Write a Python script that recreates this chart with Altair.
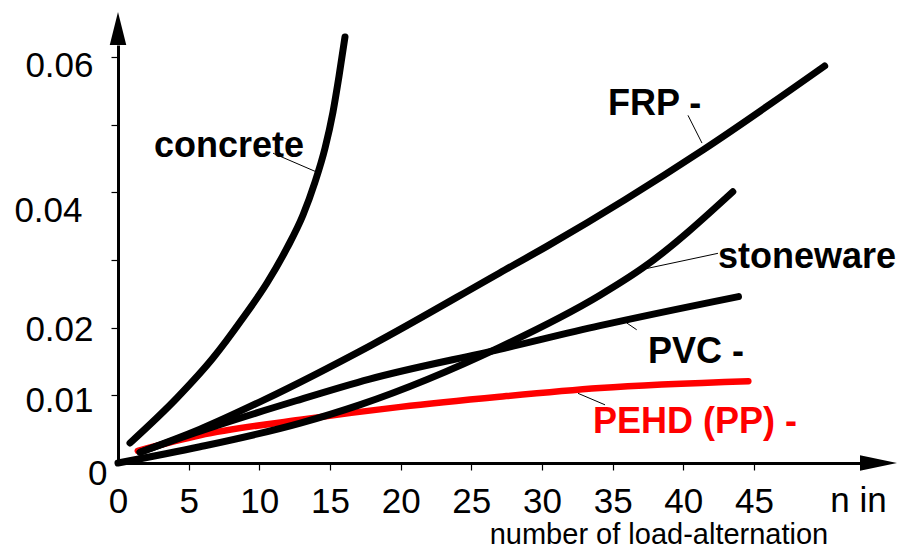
import altair as alt
import pandas as pd

FONT = "Liberation Sans, Arial, Helvetica, sans-serif"

# ---- curve data (n = load alternations, s = deflection-like quantity) ----
concrete_n = [0.85, 4.17, 6.72, 8.84, 10.54, 11.96, 13.09, 13.94, 14.65, 15.21, 15.64, 16.06]
concrete_s = [0.00296, 0.00961, 0.01552, 0.02144, 0.02661, 0.03179, 0.03666, 0.04154,
              0.04657, 0.05189, 0.05721, 0.06298]

frp_n = [1.56, 5.8, 10.3, 17.9, 27.0, 30.4, 41.4, 50.0]
frp_s = [0.0016, 0.0050, 0.0093, 0.0174, 0.0281, 0.0321, 0.0463, 0.0587]

stoneware_n = [0.0, 5.8, 12.9, 17.1, 27.0, 34.1, 37.1, 43.5]
stoneware_s = [0.0, 0.0024, 0.0059, 0.0086, 0.0171, 0.0248, 0.0288, 0.0401]

pvc_n = [1.56, 5.8, 12.6, 17.8, 27.0, 34.1, 43.9]
pvc_s = [0.0016, 0.0047, 0.0092, 0.0124, 0.0168, 0.0203, 0.0246]

pehd_n = [1.4, 5.8, 12.9, 20.0, 27.0, 34.1, 44.6]
pehd_s = [0.0018, 0.0041, 0.0064, 0.0083, 0.0098, 0.0111, 0.0121]

# ---- axis ticks ----
x_ticks = [0, 5, 10, 15, 20, 25, 30, 35, 40, 45]
y_ticks = [0, 0.01, 0.02, 0.03, 0.04, 0.05, 0.06]
y_hidden = [0.03, 0.05]

# ---- curve labels ----
black_label_text = ["concrete", "FRP -", "stoneware", "PVC -"]
black_label_n = [2.55, 34.67, 42.45, 37.5]
black_label_s = [0.0452, 0.0514, 0.0288, 0.0148]

red_label_text = ["PEHD (PP) -"]
red_label_n = [33.6]
red_label_s = [0.0044]

# leader lines: from label to curve
leader_n = [10.97, 40.33, 42.45, 36.0, 32.55]
leader_s = [0.0458, 0.0514, 0.0310, 0.0207, 0.0103]
leader_n2 = [14.08, 41.32, 37.29, 36.7, 34.46]
leader_s2 = [0.0430, 0.0473, 0.0287, 0.0197, 0.0086]

# axis captions
cap_text = ["n in"]
cap_n = [50.4]
cap_s = [-0.00724]
sub_text = ["number of load-alternation"]
sub_n = [26.3]
sub_s = [-0.0120]

X_DOMAIN = [0, 52.5]
Y_DOMAIN = [0, 0.0618]


def frame(name, ns, ss):
    return pd.DataFrame({"series": name, "n": ns, "s": ss, "i": list(range(len(ns)))})


black_df = pd.concat([
    frame("concrete", concrete_n, concrete_s),
    frame("FRP", frp_n, frp_s),
    frame("stoneware", stoneware_n, stoneware_s),
    frame("PVC", pvc_n, pvc_s),
], ignore_index=True)
red_df = frame("PEHD (PP)", pehd_n, pehd_s)

xscale = alt.Scale(domain=X_DOMAIN, nice=False, zero=False)
yscale = alt.Scale(domain=Y_DOMAIN, nice=False, zero=False)

hidden_test = " || ".join(f"datum.value == {v}" for v in y_hidden)

x_axis = alt.Axis(
    values=x_ticks, format="d", title=None, grid=False,
    domainWidth=3, domainColor="black",
    tickColor="black", tickWidth=1.2, tickSize=7,
    tickOpacity={"condition": {"test": "datum.value == 0", "value": 0}, "value": 1},
    labelFont=FONT, labelFontSize=35, labelColor="black",
    labelPadding=14, labelFlush=False, labelOverlap=False, labelBound=False,
)
y_axis = alt.Axis(
    values=y_ticks, format=".2~f", title=None, grid=False,
    labelExpr=f"({hidden_test}) ? '' : datum.label",
    domainWidth=3, domainColor="black",
    tickColor="black", tickWidth=1.2, tickSize=7,
    tickOpacity={"condition": {"test": "datum.value == 0", "value": 0}, "value": 1},
    labelFont=FONT, labelFontSize=35, labelColor="black",
    labelPadding={"condition": [
        {"test": "datum.value == 0", "value": 4},
        {"test": "datum.value == 0.04", "value": 29},
    ], "value": 18},
    labelOffset={"condition": [
        {"test": "datum.value == 0", "value": 10},
        {"test": "datum.value == 0.04", "value": 18},
        {"test": "datum.value == 0.06", "value": 8},
        {"test": "datum.value == 0.01", "value": 5},
    ], "value": 2},
    labelFlush=False, labelOverlap=False, labelBound=False,
)

red_line = alt.Chart(red_df).mark_line(
    color="#ff0000", strokeWidth=6.5, strokeCap="round", strokeJoin="round",
    interpolate="monotone",
).encode(
    x=alt.X("n:Q", scale=xscale, axis=x_axis),
    y=alt.Y("s:Q", scale=yscale, axis=y_axis),
    order="i:Q",
)

black_lines = alt.Chart(black_df).mark_line(
    color="black", strokeWidth=7, strokeCap="round", strokeJoin="round",
    interpolate="monotone",
).encode(
    x=alt.X("n:Q", scale=xscale),
    y=alt.Y("s:Q", scale=yscale),
    detail="series:N",
    order="i:Q",
)

leaders = alt.Chart(pd.DataFrame({
    "n": leader_n, "s": leader_s, "n2": leader_n2, "s2": leader_s2,
})).mark_rule(color="black", strokeWidth=1).encode(
    x=alt.X("n:Q", scale=xscale), y=alt.Y("s:Q", scale=yscale),
    x2="n2:Q", y2="s2:Q",
)

black_labels = alt.Chart(pd.DataFrame({
    "t": black_label_text, "n": black_label_n, "s": black_label_s,
})).mark_text(
    font=FONT, fontSize=36, fontWeight="bold", color="black",
    align="left", baseline="alphabetic",
).encode(x=alt.X("n:Q", scale=xscale), y=alt.Y("s:Q", scale=yscale), text="t:N")

red_labels = alt.Chart(pd.DataFrame({
    "t": red_label_text, "n": red_label_n, "s": red_label_s,
})).mark_text(
    font=FONT, fontSize=36, fontWeight="bold", color="#ff0000",
    align="left", baseline="alphabetic",
).encode(x=alt.X("n:Q", scale=xscale), y=alt.Y("s:Q", scale=yscale), text="t:N")

caption = alt.Chart(pd.DataFrame({"t": cap_text, "n": cap_n, "s": cap_s})).mark_text(
    font=FONT, fontSize=35, color="black", align="left", baseline="alphabetic",
).encode(x=alt.X("n:Q", scale=xscale), y=alt.Y("s:Q", scale=yscale), text="t:N")

subcaption = alt.Chart(pd.DataFrame({"t": sub_text, "n": sub_n, "s": sub_s})).mark_text(
    font=FONT, fontSize=29, color="black", align="left", baseline="alphabetic",
).encode(x=alt.X("n:Q", scale=xscale), y=alt.Y("s:Q", scale=yscale), text="t:N")

up_arrow = alt.Chart(pd.DataFrame({"n": [X_DOMAIN[0]], "s": [Y_DOMAIN[1]]})).mark_point(
    shape="M0,-1L0.25,0L-0.25,0Z", size=4356, filled=True, color="black",
    opacity=1, strokeWidth=0,
).encode(x=alt.X("n:Q", scale=xscale), y=alt.Y("s:Q", scale=yscale))

right_arrow = alt.Chart(pd.DataFrame({"n": [X_DOMAIN[1]], "s": [Y_DOMAIN[0]]})).mark_point(
    shape="M1,0L0,-0.21L0,0.21Z", size=5476, filled=True, color="black",
    opacity=1, strokeWidth=0,
).encode(x=alt.X("n:Q", scale=xscale), y=alt.Y("s:Q", scale=yscale))

chart = alt.layer(
    red_line, black_lines, leaders, black_labels, red_labels,
    caption, subcaption, up_arrow, right_arrow,
).properties(
    width=742, height=418,
    autosize=alt.AutoSizeParams(type="none"),
    padding={"left": 110, "top": 37, "right": 37, "bottom": 96},
    background="white",
).configure_view(stroke=None)

chart.save("out.html", embed_options={"renderer": "svg", "actions": False})
